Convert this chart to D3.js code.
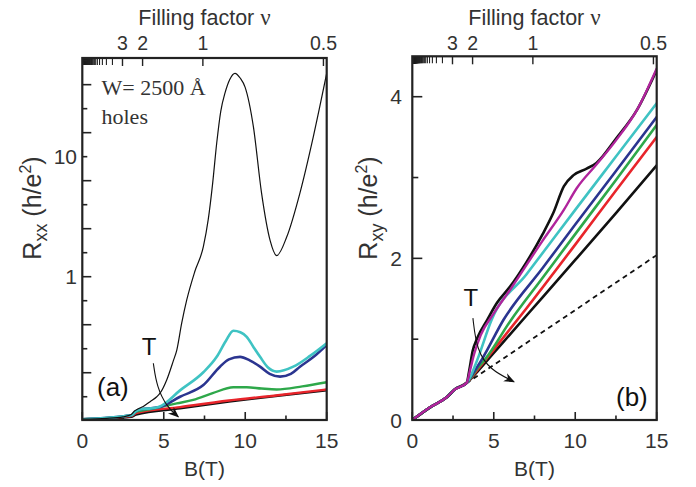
<!DOCTYPE html>
<html><head><meta charset="utf-8">
<script src="https://cdn.jsdelivr.net/npm/d3@7"></script>
<style>body{margin:0;background:#fff}svg{display:block}</style>
</head><body>
<svg id="c" width="696" height="487"></svg>
<script>
// ---------- DATA ----------
// Panel (a): Rxx (h/e^2) vs B (T), pairs [B, R]
const rxxBlackThin = [[0,0.065],[1.5,0.066],[2.5,0.068],[3.0,0.071],[3.2,0.076],[3.4,0.079],[3.74,0.083],[4.16,0.091],[4.57,0.1],[4.77,0.107],[5.18,0.138],[5.59,0.2],[5.8,0.245],[6.1,0.41],[6.41,0.64],[6.9,1.1],[7.43,1.78],[7.73,3.0],[8.0,6.0],[8.25,13],[8.5,24],[8.76,34],[9.05,44],[9.37,49.5],[9.7,45],[9.99,38],[10.5,17.8],[11.0,5.0],[11.53,2.0],[11.93,1.5],[12.55,2.15],[13.36,5.0],[14.18,14.7],[15,49.5]];
const rxxCyan = [[0,0.065],[3.0,0.07],[3.3,0.076],[3.7,0.079],[4.2,0.08],[4.77,0.083],[6,0.113],[7.43,0.16],[8.25,0.215],[8.8,0.29],[9.27,0.355],[9.7,0.345],[10.09,0.316],[10.5,0.26],[10.91,0.215],[11.4,0.175],[11.93,0.162],[12.95,0.178],[14,0.22],[15,0.279]];
const rxxBlue = [[0,0.065],[3.0,0.07],[3.3,0.076],[3.7,0.079],[4.2,0.08],[4.77,0.082],[6,0.1],[7.43,0.125],[8.45,0.178],[9.0,0.205],[9.68,0.215],[10.3,0.2],[10.91,0.178],[11.5,0.155],[12.14,0.147],[12.8,0.155],[13.36,0.178],[14.2,0.215],[15,0.27]];
const rxxGreen = [[0,0.065],[3.0,0.07],[3.3,0.075],[4.0,0.078],[4.77,0.082],[5.8,0.088],[6.81,0.094],[8,0.107],[9.27,0.12],[10.09,0.12],[11,0.117],[11.93,0.115],[13.5,0.122],[15,0.132]];
const rxxRed = [[0,0.065],[3.0,0.069],[3.3,0.073],[6,0.082],[9,0.093],[12,0.103],[15,0.115]];
const rxxBlackThick = [[0,0.064],[3.0,0.068],[3.3,0.071],[6,0.08],[9,0.091],[12,0.102],[15,0.113]];
const rxxArrow = [[4.36,0.19],[4.57,0.121],[5.18,0.0826],[5.89,0.068]];

// Panel (b): Rxy (h/e^2) vs B (T)
const rxyBlackTop = [[0,0],[1.09,0.157],[2.11,0.281],[2.62,0.38],[3.34,0.46],[3.5,0.62],[3.7,0.85],[4.0,1.02],[4.6,1.24],[5.2,1.45],[6,1.65],[7,1.95],[8,2.3],[8.65,2.56],[9.3,2.89],[9.9,3.03],[10.7,3.11],[11.3,3.18],[12.5,3.48],[13.8,3.84],[15,4.33]];
const rxyMagenta = [[0,0],[1.09,0.157],[2.11,0.281],[2.62,0.38],[3.34,0.46],[3.55,0.62],[3.8,0.82],[4.2,1.05],[5,1.32],[6,1.61],[8,2.22],[9.3,2.6],[10.1,2.87],[11.3,3.16],[12.5,3.46],[13.8,3.84],[15,4.35]];
const rxyCyan = [[0,0],[1.09,0.157],[2.11,0.281],[2.62,0.38],[3.34,0.46],[3.6,0.55],[4.0,0.75],[4.87,1.24],[7,1.8],[10,2.6],[12.5,3.26],[15,3.92]];
const rxyBlue = [[0,0],[1.09,0.157],[2.11,0.281],[2.62,0.38],[3.34,0.46],[3.8,0.6],[4.3,0.76],[5.6,1.24],[8,1.88],[10,2.42],[12.5,3.08],[15,3.75]];
const rxyGreen = [[0,0],[1.09,0.157],[2.11,0.281],[2.62,0.38],[3.34,0.46],[4,0.64],[4.5,0.76],[6,1.22],[8,1.76],[10,2.3],[12.5,2.97],[15,3.65]];
const rxyRed = [[0,0],[1.09,0.157],[2.11,0.281],[2.62,0.38],[3.34,0.46],[4.0,0.62],[5,0.87],[7,1.38],[10,2.17],[12.5,2.84],[15,3.5]];
const rxyBlackBottom = [[0,0],[1.09,0.157],[2.11,0.281],[2.62,0.38],[3.34,0.46],[4.0,0.6],[5,0.83],[7,1.29],[10,1.98],[12.5,2.56],[15,3.15]];
const rxyClassical = [[3.3,0.45],[15,2.04]];
const rxyArrow = [[3.72,1.26],[3.95,0.866],[4.77,0.62],[6.24,0.474]];

// Axes / ticks
const bMajor = [0, 5, 10, 15];
const bMinor = [2.5, 7.5, 12.5];
const nuB = 7.4;                       // B at filling factor 1
const nuLabeled = [3, 2, 1, 0.5];
const nuLabelText = ["3", "2", "1", "0.5"];
const nuMinor = d3.range(4, 101);
const rxxLabeled = [1, 10];
const rxyMajor = [0, 2, 4];
const rxyMinor = [1, 3];

// ---------- DRAW ----------
const svg = d3.select("#c");
svg.append("rect").attr("width",696).attr("height",487).attr("fill","#fff");
const sans = "'Liberation Sans', Arial, Helvetica, sans-serif";
const serif = "'Liberation Serif', 'Times New Roman', serif";
const ink = "#222";
const txt = "#333";

const defs = svg.append("defs");
defs.append("marker").attr("id","ah").attr("viewBox","0 0 10 10").attr("refX",9).attr("refY",5)
  .attr("markerWidth",11).attr("markerHeight",11).attr("markerUnits","userSpaceOnUse").attr("orient","auto")
  .append("path").attr("d","M0,1 L10,5 L0,9 L3,5 Z").attr("fill","#111");

const xL = d3.scaleLinear().domain([0,15]).range([82.3,326.7]);
const yL = d3.scaleLog().domain([0.064,66.4]).range([420,58]);
const xR = d3.scaleLinear().domain([0,15]).range([412.3,656.7]);
const yR = d3.scaleLinear().domain([0,4.5]).range([420,56.3]);

function clip(id, x, y){
  const [x0,x1]=x.range(), [y0,y1]=y.range();
  defs.append("clipPath").attr("id",id).append("rect").attr("x",x0).attr("y",y1).attr("width",x1-x0).attr("height",y0-y1);
}
clip("cl", xL, yL); clip("cr", xR, yR);

function common(x, y){
  const [x0,x1]=x.range(), [y0,y1]=y.range();
  const g = svg.append("g");
  bMajor.forEach(v=>{
    g.append("line").attr("x1",x(v)).attr("x2",x(v)).attr("y1",y0).attr("y2",y0-8).attr("stroke",ink).attr("stroke-width",1.6);
    g.append("text").attr("x",x(v)).attr("y",448).attr("text-anchor","middle").attr("font-family",sans).attr("font-size",21).attr("fill",txt).text(v);
  });
  bMinor.forEach(v=>{
    g.append("line").attr("x1",x(v)).attr("x2",x(v)).attr("y1",y0).attr("y2",y0-4.5).attr("stroke",ink).attr("stroke-width",1.6);
  });
  g.append("text").attr("x",(x0+x1)/2).attr("y",476).attr("text-anchor","middle").attr("font-family",sans).attr("font-size",21).attr("fill",txt).text("B(T)");
  nuMinor.forEach(n=>{
    const xx = x(nuB/n);
    g.append("line").attr("x1",xx).attr("x2",xx).attr("y1",y1).attr("y2",y1+7).attr("stroke",ink).attr("stroke-width",1.1);
  });
  nuLabeled.forEach((n,i)=>{
    const xx = x(nuB/n);
    g.append("line").attr("x1",xx).attr("x2",xx).attr("y1",y1).attr("y2",y1+8).attr("stroke",ink).attr("stroke-width",1.4);
    g.append("text").attr("x",xx).attr("y",50).attr("text-anchor","middle").attr("font-family",sans).attr("font-size",19.5).attr("fill",txt).text(nuLabelText[i]);
  });
  const t = g.append("text").attr("x",(x0+x1)/2).attr("y",25).attr("text-anchor","middle").attr("font-family",sans).attr("font-size",21.5).attr("fill",txt);
  t.append("tspan").text("Filling factor ");
  t.append("tspan").attr("font-family",serif).attr("font-size",23).text("ν");
  return g;
}

function ylabel(xb, yc, sub){
  const t = svg.append("text").attr("transform",`translate(${xb},${yc}) rotate(-90)`).attr("text-anchor","middle")
    .attr("font-family",sans).attr("font-size",25).attr("fill",txt);
  t.append("tspan").text("R");
  t.append("tspan").attr("font-size",18).attr("dy",6).text(sub);
  t.append("tspan").attr("dy",-6).text(" (h/e");
  t.append("tspan").attr("font-size",16).attr("dy",-10).text("2");
  t.append("tspan").attr("dy",10).text(")");
}

function frame(x, y){
  const [x0,x1]=x.range(), [y0,y1]=y.range();
  svg.append("rect").attr("x",x0).attr("y",y1).attr("width",x1-x0).attr("height",y0-y1)
    .attr("fill","none").attr("stroke",ink).attr("stroke-width",2.2);
}

function series(x, y, clipId, data, color, w, dash){
  const line = d3.line().x(d=>x(d[0])).y(d=>y(d[1])).curve(d3.curveMonotoneX);
  const p = svg.append("path").attr("clip-path",`url(#${clipId})`).attr("d",line(data)).attr("fill","none")
    .attr("stroke",color).attr("stroke-width",w).attr("stroke-linejoin","round").attr("stroke-linecap","round");
  if (dash) p.attr("stroke-dasharray",dash).attr("stroke-linecap","butt");
  return p;
}
function arrow(x, y, data){
  const line = d3.line().x(d=>x(d[0])).y(d=>y(d[1])).curve(d3.curveBasis);
  svg.append("path").attr("d",line(data)).attr("fill","none").attr("stroke","#111").attr("stroke-width",1.1).attr("marker-end","url(#ah)");
}

// ----- Panel (a) -----
common(xL, yL);
d3.range(-5, 10).forEach(k=>{
  const v = Math.pow(10, k/5);
  const len = (k % 2 === 0) ? 9 : 5;
  svg.append("line").attr("x1",xL(0)).attr("x2",xL(0)+len).attr("y1",yL(v)).attr("y2",yL(v)).attr("stroke",ink).attr("stroke-width",1.6);
});
rxxLabeled.forEach(v=>{
  svg.append("text").attr("x",77).attr("y",yL(v)+7.5).attr("text-anchor","end").attr("font-family",sans).attr("font-size",21).attr("fill",txt).text(v);
});
ylabel(41, 208, "xx");
series(xL, yL, "cl", rxxBlackThick, "#111", 2.4);
series(xL, yL, "cl", rxxRed, "#e8252b", 2.4);
series(xL, yL, "cl", rxxGreen, "#2ea84a", 2.4);
series(xL, yL, "cl", rxxBlue, "#2b3590", 2.6);
series(xL, yL, "cl", rxxCyan, "#3fc3c3", 2.6);
series(xL, yL, "cl", rxxBlackThin, "#111", 1.2);
arrow(xL, yL, rxxArrow);
svg.append("text").attr("x",xL(4.1)).attr("y",355).attr("text-anchor","middle").attr("font-family",sans).attr("font-size",24).attr("fill","#111").text("T");
svg.append("text").attr("x",97).attr("y",396).attr("font-family",sans).attr("font-size",26).attr("fill","#111").text("(a)");
svg.append("text").attr("x",101.5).attr("y",95).attr("font-family",serif).attr("font-size",22).attr("fill",txt).text("W= 2500 Å");
svg.append("text").attr("x",101.5).attr("y",123.5).attr("font-family",serif).attr("font-size",22).attr("fill",txt).text("holes");
frame(xL, yL);

// ----- Panel (b) -----
common(xR, yR);
rxyMajor.forEach(v=>{
  svg.append("line").attr("x1",xR(0)).attr("x2",xR(0)+10).attr("y1",yR(v)).attr("y2",yR(v)).attr("stroke",ink).attr("stroke-width",1.6);
  svg.append("text").attr("x",402).attr("y",yR(v)+7.5).attr("text-anchor","end").attr("font-family",sans).attr("font-size",21).attr("fill",txt).text(v);
});
rxyMinor.forEach(v=>{
  svg.append("line").attr("x1",xR(0)).attr("x2",xR(0)+6).attr("y1",yR(v)).attr("y2",yR(v)).attr("stroke",ink).attr("stroke-width",1.6);
});
ylabel(377, 208, "xy");
series(xR, yR, "cr", rxyClassical, "#111", 1.8, "5,4");
series(xR, yR, "cr", rxyBlackBottom, "#111", 2.6);
series(xR, yR, "cr", rxyRed, "#e8252b", 2.6);
series(xR, yR, "cr", rxyGreen, "#2ea84a", 2.6);
series(xR, yR, "cr", rxyBlue, "#2b3590", 2.6);
series(xR, yR, "cr", rxyCyan, "#3fc3c3", 2.6);
series(xR, yR, "cr", rxyBlackTop, "#111", 2.6);
series(xR, yR, "cr", rxyMagenta, "#b0249c", 2.4);
arrow(xR, yR, rxyArrow);
svg.append("text").attr("x",xR(3.6)).attr("y",306).attr("text-anchor","middle").attr("font-family",sans).attr("font-size",24).attr("fill","#111").text("T");
svg.append("text").attr("x",616).attr("y",406).attr("font-family",sans).attr("font-size",26).attr("fill","#111").text("(b)");
frame(xR, yR);
</script>
</body></html>
